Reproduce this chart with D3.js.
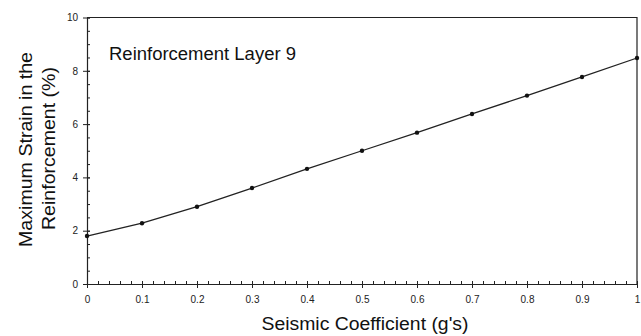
<!DOCTYPE html>
<html>
<head>
<meta charset="utf-8">
<script src="https://cdn.jsdelivr.net/npm/d3@7"></script>
<style>
  body { margin: 0; background: #fff; }
  svg { display: block; font-family: "Liberation Sans", Arial, sans-serif; }
</style>
</head>
<body>
<svg id="chart" width="641" height="336"></svg>
<script>
// values
const coeff = [0, 0.1, 0.2, 0.3, 0.4, 0.5, 0.6, 0.7, 0.8, 0.9, 1.0];
const strain = [1.8, 2.28, 2.9, 3.6, 4.32, 5.0, 5.68, 6.38, 7.07, 7.77, 8.48];
const xTicks = [0, 0.1, 0.2, 0.3, 0.4, 0.5, 0.6, 0.7, 0.8, 0.9, 1];
const yTicks = [0, 2, 4, 6, 8, 10];
const title = 'Reinforcement Layer 9';

const svg = d3.select('#chart');
const x = d3.scaleLinear().domain([0, 1]).range([87, 637]);
const y = d3.scaleLinear().domain([0, 10]).range([284, 17.5]);

// frame (top and right)
svg.append('path')
  .attr('d', `M${x(0)},${y(10)}H${x(1)}V${y(0)}`)
  .attr('fill', 'none').attr('stroke', '#222').attr('stroke-width', 1.2);

// minor ticks, inside
const xMinor = d3.range(0, 1.0001, 0.02);
const yMinor = d3.range(0, 10.0001, 0.5);
svg.append('g').attr('transform', `translate(0,${y(0)})`)
  .call(d3.axisBottom(x).tickValues(xMinor).tickSize(-3).tickFormat(''))
  .call(g => g.select('.domain').remove());
svg.append('g').attr('transform', `translate(${x(0)},0)`)
  .call(d3.axisLeft(y).tickValues(yMinor).tickSize(-3).tickFormat(''))
  .call(g => g.select('.domain').remove());

// major ticks crossing the axis
svg.append('g').attr('transform', `translate(0,${y(0)})`)
  .call(d3.axisBottom(x).tickValues(xTicks).tickSize(-3).tickFormat(''))
  .call(g => g.select('.domain').remove());
svg.append('g').attr('transform', `translate(${x(0)},0)`)
  .call(d3.axisLeft(y).tickValues(yTicks).tickSize(-3).tickFormat(''))
  .call(g => g.select('.domain').remove());

const xAxis = svg.append('g').attr('transform', `translate(0,${y(0)})`)
  .call(d3.axisBottom(x).tickValues(xTicks).tickSize(4).tickPadding(8)
    .tickSizeOuter(0).tickFormat(d => d === 0 || d === 1 ? d3.format('d')(d) : d3.format('.1f')(d)));
const yAxis = svg.append('g').attr('transform', `translate(${x(0)},0)`)
  .call(d3.axisLeft(y).tickValues(yTicks).tickSize(4).tickPadding(5).tickSizeOuter(0));

svg.selectAll('.tick line').attr('stroke', '#222').attr('stroke-width', 1);
svg.selectAll('.domain').attr('stroke', '#222').attr('stroke-width', 1.2);
xAxis.selectAll('text').attr('font-size', 10).attr('fill', '#222');
yAxis.selectAll('text').attr('font-size', 10).attr('fill', '#222');

// data line and markers
const line = d3.line().x((d, i) => x(coeff[i])).y(d => y(d));
svg.append('path').datum(strain)
  .attr('d', line)
  .attr('fill', 'none').attr('stroke', '#222').attr('stroke-width', 1.3);
svg.append('g').selectAll('circle').data(strain).join('circle')
  .attr('cx', (d, i) => x(coeff[i])).attr('cy', d => y(d))
  .attr('r', 2.2).attr('fill', '#111');

// texts
svg.append('text').attr('x', 109).attr('y', 59.5)
  .attr('font-size', 17.5).attr('fill', '#111')
  .attr('textLength', 187).attr('lengthAdjust', 'spacingAndGlyphs')
  .text(title);

svg.append('text').attr('x', 365).attr('y', 329.5)
  .attr('text-anchor', 'middle').attr('font-size', 17.5).attr('fill', '#111')
  .attr('textLength', 207).attr('lengthAdjust', 'spacingAndGlyphs')
  .text("Seismic Coefficient (g's)");

svg.append('text').attr('transform', 'translate(32,149.5) rotate(-90)')
  .attr('text-anchor', 'middle').attr('font-size', 17.5).attr('fill', '#111')
  .attr('textLength', 195).attr('lengthAdjust', 'spacingAndGlyphs')
  .text('Maximum Strain in the');
svg.append('text').attr('transform', 'translate(55,148.5) rotate(-90)')
  .attr('text-anchor', 'middle').attr('font-size', 17.5).attr('fill', '#111')
  .attr('textLength', 163).attr('lengthAdjust', 'spacingAndGlyphs')
  .text('Reinforcement (%)');
</script>
</body>
</html>
